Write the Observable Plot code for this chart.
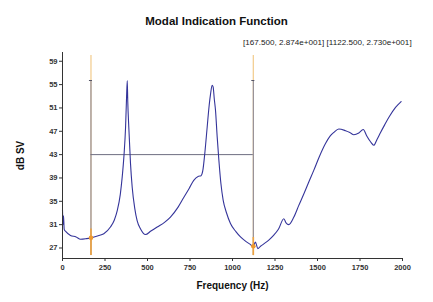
<!DOCTYPE html>
<html>
<head>
<meta charset="utf-8">
<script src="https://cdn.jsdelivr.net/npm/d3@7"></script>
<script src="https://cdn.jsdelivr.net/npm/@observablehq/plot@0.6"></script>
<style>
  html, body { margin: 0; padding: 0; background: #fff; }
  #wrap { position: relative; width: 433px; height: 302px; font-family: "Liberation Sans", Arial, sans-serif; }
  #title { position: absolute; left: 0; width: 433px; top: 15px; text-align: center; font-weight: bold; font-size: 11.5px; color: #111; }
  #readout { position: absolute; left: 243px; top: 38px; font-size: 8.1px; color: #222; white-space: nowrap; }
  svg { position: absolute; left: 0; top: 0; }
</style>
</head>
<body>
<div id="wrap">
  <div id="title">Modal Indication Function</div>
  <div id="readout">[167.500, 2.874e+001] [1122.500, 2.730e+001]</div>
</div>
<script>
const freq = [0, 3, 6, 10, 20, 47, 80, 106, 140, 167.5, 210, 243, 282, 305, 322, 340, 351, 362, 371, 377, 381, 384, 390, 400, 410, 425, 439, 460, 488, 520, 557, 600, 635, 680, 714, 745, 772, 800, 815, 825, 838, 851, 863, 871, 880, 886, 893, 900, 910, 920, 932, 945, 965, 988, 1020, 1047, 1080, 1100, 1122.5, 1135, 1149, 1165, 1184, 1215, 1243, 1270, 1302, 1315, 1331, 1361, 1390, 1420, 1450, 1478, 1510, 1547, 1575, 1596, 1625, 1665, 1690, 1714, 1743, 1769, 1790, 1812, 1831, 1850, 1871, 1895, 1920, 1959, 1992];
const dbSV = [33.5, 31.0, 32.5, 30.2, 29.8, 29.15, 28.9, 28.5, 28.6, 28.74, 29.1, 29.45, 30.6, 31.8, 33.4, 36.2, 39.1, 43.0, 47.7, 53.0, 55.7, 52.0, 47.7, 41.5, 37.4, 33.8, 31.7, 30.2, 29.3, 29.9, 30.6, 31.4, 32.3, 34.0, 35.7, 37.2, 38.6, 39.3, 39.4, 40.2, 43.5, 47.7, 51.5, 53.4, 54.9, 54.6, 52.5, 50.6, 46.0, 42.0, 38.0, 35.2, 33.0, 31.2, 29.8, 28.9, 28.1, 27.7, 27.3, 28.0, 26.9, 27.3, 27.7, 28.4, 29.2, 30.2, 32.0, 31.3, 31.0, 32.3, 34.3, 36.3, 38.4, 40.3, 42.6, 44.9, 46.2, 46.8, 47.4, 47.1, 46.8, 46.4, 46.7, 47.3, 46.2, 45.2, 44.6, 45.6, 46.8, 48.1, 49.4, 51.1, 52.1];
const cursorFreq = [167.5, 1122.5];
const cursorValue = [28.74, 27.30];
const bracketTop = 55.7;
const bracketLevel = 43;
const xTicks = [0, 250, 500, 750, 1000, 1250, 1500, 1750, 2000];
const yTicks = [27, 31, 35, 39, 43, 47, 51, 55, 59];

const curve = freq.map((f, i) => ({f, v: dbSV[i]}));
const cursors = cursorFreq.map((f, i) => ({f, v: cursorValue[i]}));
const yMin = 25.2, yMax = 60.5;

const chart = Plot.plot({
  width: 433,
  height: 302,
  marginLeft: 62,
  marginRight: 31,
  marginTop: 52,
  marginBottom: 44,
  style: {fontFamily: "'Liberation Sans', Arial, sans-serif", background: "transparent"},
  x: {domain: [0, 2000]},
  y: {domain: [yMin, yMax]},
  marks: [
    Plot.ruleX(cursors, {x: "f", y1: 25.7, y2: 60.0, stroke: "#f3cf94", strokeWidth: 1.3}),
    Plot.ruleX(cursors, {x: "f", y1: 25.7, y2: bracketTop, stroke: "#85859a", strokeWidth: 1}),
    Plot.ruleY([bracketLevel], {x1: cursorFreq[0], x2: cursorFreq[1], stroke: "#6e6e80", strokeWidth: 1}),
    Plot.ruleY(cursors, {y: () => bracketTop, x1: d => d.f - 9, x2: d => d.f + 9, stroke: "#555566", strokeWidth: 1}),
    Plot.ruleX(cursors, {x: "f", y1: 25.7, y2: d => d.v + 1.5, stroke: "#eea340", strokeWidth: 1.6}),
    Plot.line(curve, {x: "f", y: "v", stroke: "#34349a", strokeWidth: 1.1, curve: "monotone-x"}),
    Plot.dot(cursors, {x: "f", y: "v", r: 2.3, fill: "#ee9a30", stroke: null}),
    Plot.ruleX([0], {y1: yMin, y2: yMax, stroke: "#333", strokeWidth: 1}),
    Plot.ruleY([yMin], {x1: 0, x2: 2000, stroke: "#333", strokeWidth: 1}),
    Plot.axisX({ticks: xTicks, tickFormat: d => String(d), tickSize: 3, tickPadding: 3, fontSize: 7.5, fontWeight: "bold", fill: "#333", stroke: "#333",
      label: "Frequency (Hz)", labelAnchor: "center", labelArrow: "none", labelOffset: 30}),
    Plot.axisY({ticks: yTicks, tickFormat: d => String(d), tickSize: 3, tickPadding: 2, fontSize: 7.5, fontWeight: "bold", fill: "#333", stroke: "#333",
      label: "dB SV", labelAnchor: "center", labelArrow: "none", labelOffset: 46})
  ]
});

chart.querySelectorAll("g[aria-label='x-axis label'] text, g[aria-label='y-axis label'] text").forEach(t => {
  t.setAttribute("font-size", "10");
  t.setAttribute("font-weight", "bold");
  t.setAttribute("fill", "#111");
});
document.getElementById("wrap").prepend(chart);
</script>
</body>
</html>
